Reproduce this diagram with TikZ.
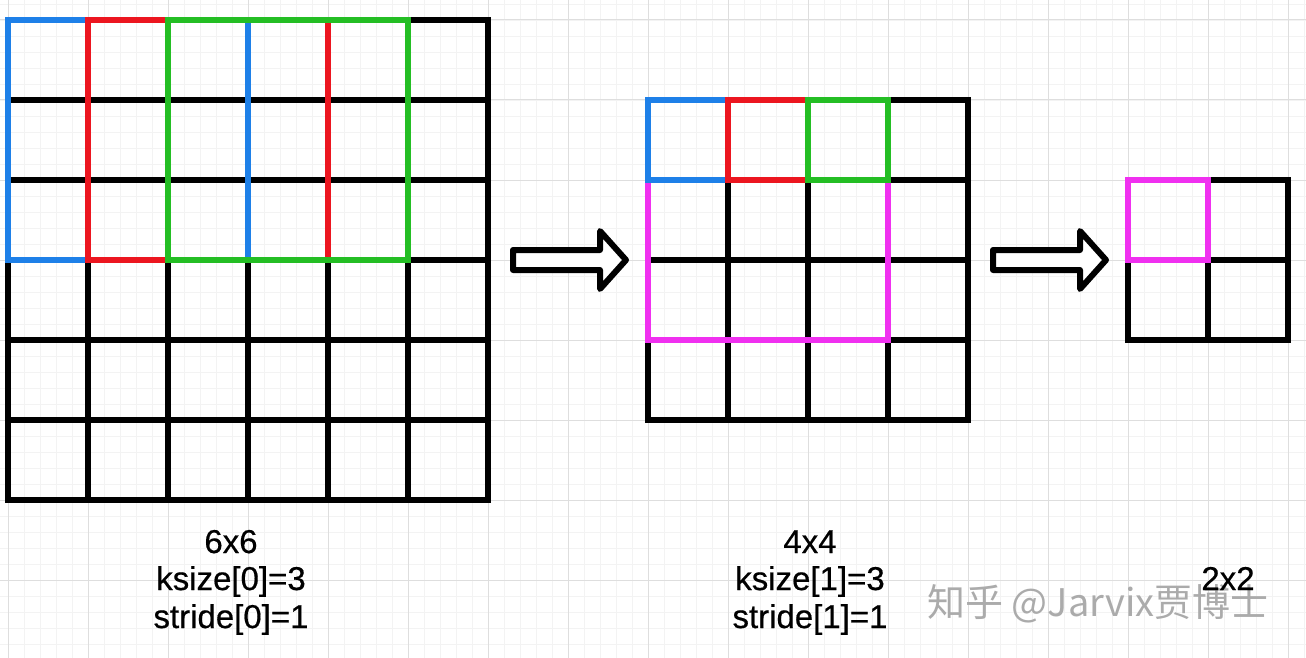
\documentclass[tikz,border=0pt]{standalone}
\usepackage{fontspec}
\setmainfont{Liberation Sans}
\newfontfamily\lblfont[FakeBold=0.5]{Liberation Sans}
\newfontfamily\cjk{Noto Sans CJK SC}
\definecolor{cblue}{RGB}{30,128,232}
\definecolor{cred}{RGB}{236,22,32}
\definecolor{cgreen}{RGB}{36,190,36}
\definecolor{cmag}{RGB}{240,48,240}
\definecolor{minorgrid}{RGB}{243,243,243}
\definecolor{majorgrid}{RGB}{222,222,222}
\tikzset{
  gridline/.style={line width=6pt, black, line cap=rect},
  win/.style={line width=6pt, line cap=rect, line join=miter},
  fatarrow/.style={line width=6pt, line join=round, black, fill=white},
  lbl/.style={font=\lblfont\fontsize{33}{38}\selectfont, anchor=base, inner sep=0pt},
  wmark/.style={font=\cjk\fontsize{38}{44}\selectfont, text=black!33, anchor=base, inner sep=0pt}
}
\begin{document}
\begin{tikzpicture}[x=1pt,y=-1pt]
\useasboundingbox (0,0) rectangle (1306,658);
\fill[white] (0,0) rectangle (1306,658);
% background grid
\foreach \x in {8,24,...,1306} \draw[minorgrid, line width=0.8pt] (\x,0) -- (\x,658);
\foreach \y in {4,20,...,658} \draw[minorgrid, line width=0.8pt] (0,\y) -- (1306,\y);
\foreach \x in {8,88,...,1306} \draw[majorgrid, line width=1pt] (\x,0) -- (\x,658);
\foreach \y in {20,100,...,658} \draw[majorgrid, line width=1pt] (0,\y) -- (1306,\y);

% 6x6 grid
\foreach \i in {0,...,6} {
  \draw[gridline] (8+80*\i,20) -- (8+80*\i,500);
  \draw[gridline] (8,20+80*\i) -- (488,20+80*\i);
}
\draw[win, cblue] (8,20) rectangle (248,260);
\draw[win, cred] (88,20) rectangle (328,260);
\draw[win, cgreen] (168,20) rectangle (408,260);

% 4x4 grid
\foreach \i in {0,...,4} {
  \draw[gridline] (648+80*\i,100) -- (648+80*\i,420);
  \draw[gridline] (648,100+80*\i) -- (968,100+80*\i);
}
\draw[win, cmag] (648,100) rectangle (888,340);
\draw[win, cblue] (648,100) rectangle (728,180);
\draw[win, cred] (728,100) rectangle (808,180);
\draw[win, cgreen] (808,100) rectangle (888,180);

% 2x2 grid
\foreach \i in {0,...,2} {
  \draw[gridline] (1128+80*\i,180) -- (1128+80*\i,340);
  \draw[gridline] (1128,180+80*\i) -- (1288,180+80*\i);
}
\draw[win, cmag] (1128,180) rectangle (1208,260);

% arrows
\draw[fatarrow] (513,250) -- (600,250) -- (600,231) -- (626,260) -- (600,289) -- (600,270) -- (513,270) -- cycle;
\draw[fatarrow] (993,250) -- (1080,250) -- (1080,231) -- (1106,260) -- (1080,289) -- (1080,270) -- (993,270) -- cycle;

% watermark
\node[wmark] (wm) at (1098,616) {知乎 @Jarvix贾博士};

% labels
\node[lbl] (a1) at (231,553) {6x6};
\node[lbl] (a2) at (231,590) {ksize[0]=3};
\node[lbl] (a3) at (231,628) {stride[0]=1};
\node[lbl] (b1) at (810,553) {4x4};
\node[lbl] (b2) at (810,590) {ksize[1]=3};
\node[lbl] (b3) at (810,628) {stride[1]=1};
\node[lbl] (c1) at (1228,590) {2x2};
\end{tikzpicture}
\end{document}
